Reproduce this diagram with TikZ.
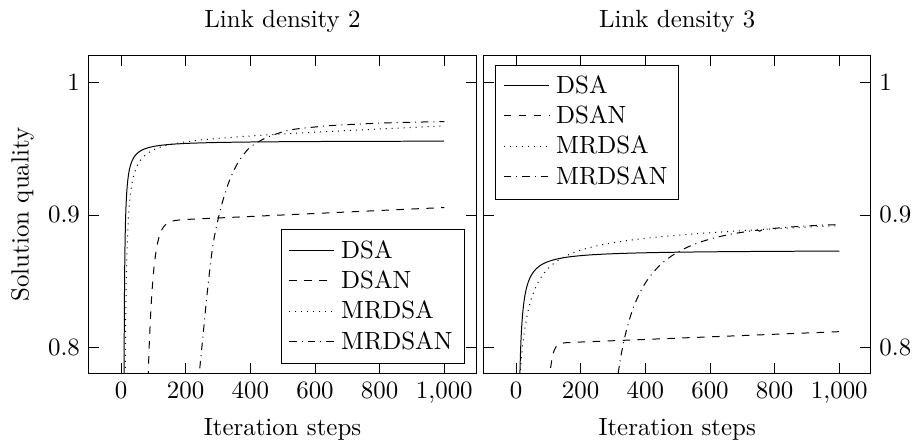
\documentclass[tikz,border=0pt]{standalone}
\begin{document}
\begin{tikzpicture}[x=0.4016pt,y=-0.4016pt,
  axisframe/.style={draw=black,line width=0.4pt},
  tickmark/.style={draw=black,very thin},
  curve/.style={draw=black,line width=0.4pt},
  ticklab/.style={inner sep=0pt,anchor=base},
  legtext/.style={inner sep=0pt,anchor=base west}]
\useasboundingbox (0,0) rectangle (913,446);

% ---------- curves, left panel ----------
\begin{scope}
\clip (88.7,55.7) rectangle (476.3,373.3);
\begin{scope}[shift={(121,1404.7)}]
\begin{scope}[x=0.12984pt,y=530.9pt]
 \draw[curve] plot[domain=0.75:6.9005,samples=160,variable=\u] ({7.2+exp(\u)},{0.9562-0.414/exp(\u)});
 \draw[curve,dashed] plot[domain=80:1000,samples=250,variable=\u] ({\u},{0.8943+0.0113*\u/1000-0.0403*exp(-(\u-100)/15)});
 \draw[curve,dotted] plot[domain=1.5:6.8997,samples=160,variable=\u] ({8+exp(\u)},{0.9579+0.0103*(8+exp(\u))/1000-0.9/exp(\u)});
 \draw[curve,dashdotted] plot[smooth,tension=0.5] coordinates {(238,0.770) (254.6,0.811) (265,0.837) (275.3,0.860) (285.5,0.879) (301,0.8975) (316.4,0.9120) (337,0.9270) (363,0.9400) (394,0.9500) (425,0.9553) (460,0.9595) (522,0.9642) (600,0.9665) (677,0.9680) (832,0.9697) (1000,0.9706)};
\end{scope}
\end{scope}
\end{scope}

% ---------- curves, right panel ----------
\begin{scope}
\clip (483.7,55.7) rectangle (870.6,373.3);
\begin{scope}[shift={(516,1404.7)}]
\begin{scope}[x=0.12984pt,y=530.9pt]
 \draw[curve] plot[domain=2.05:6.9048,samples=160,variable=\u] ({3+exp(\u)},{0.8735-0.85/exp(\u)});
 \draw[curve,dashed] plot[domain=100:1000,samples=250,variable=\u] ({\u},{0.8019+0.0098*\u/1000-0.0128*exp(-(\u-110.5)/9)});
 \draw[curve,dotted] plot[domain=3.3:6.9256,samples=160,variable=\u] ({exp(\u)-18},{0.8869+0.0083*(exp(\u)-18)/1000-3.32/exp(\u)});
 \draw[curve,dashdotted] plot[domain=4.25:6.635,samples=160,variable=\u] ({238.6+exp(\u)},{0.9162-0.01*(238.6+exp(\u))/1000-10.3/exp(\u)});
\end{scope}
\end{scope}
\end{scope}

% ---------- ticks and tick labels ----------
\foreach \v/\t [count=\i] in {0/0,200/200,400/400,600/600,800/800,1000/{1{,}000}} {
  \draw[tickmark] ({121+0.3233*\v},373.3) -- ++(0,-10.6);
  \draw[tickmark] ({121+0.3233*\v},55.7) -- ++(0,10.6);
  \draw[tickmark] ({516+0.3233*\v},373.3) -- ++(0,-10.6);
  \draw[tickmark] ({516+0.3233*\v},55.7) -- ++(0,10.6);
  \node[ticklab] (xl\i) at ({121+0.3233*\v},398.3) {$\t$};
  \node[ticklab] (xr\i) at ({516+0.3233*\v},398.3) {$\t$};
}
\foreach \t/\p [count=\i] in {1/82.7,0.9/214.9,0.8/347.1} {
  \draw[tickmark] (88.7,\p) -- ++(10.6,0);
  \draw[tickmark] (476.3,\p) -- ++(-10.6,0);
  \draw[tickmark] (483.7,\p) -- ++(10.6,0);
  \draw[tickmark] (870.6,\p) -- ++(-10.6,0);
  \node[anchor=east] (yl\i) at (88.7,\p) {$\t$};
  \node[anchor=west] (yr\i) at (870.6,\p) {$\t$};
}

% ---------- frames ----------
\draw[axisframe] (88.7,55.7) rectangle (476.3,373.3);
\draw[axisframe] (483.7,55.7) rectangle (870.6,373.3);

% ---------- legends ----------
\draw[axisframe,fill=white] (281,230) rectangle (464,363.3);
\foreach \s/\t/\r [count=\i] in {solid/DSA/250.7,dashed/DSAN/281,dotted/MRDSA/311.3,dashdotted/MRDSAN/341.7} {
  \draw[curve,\s] (289.3,\r) -- (334,\r);
  \node[legtext] (lgl\i) at (340.7,{\r+7.6}) {\t};
}
\draw[axisframe,fill=white] (495.3,66) rectangle (678.7,199.3);
\foreach \s/\t/\r [count=\i] in {solid/DSA/85.7,dashed/DSAN/116,dotted/MRDSA/146.3,dashdotted/MRDSAN/176.7} {
  \draw[curve,\s] (504,\r) -- (549,\r);
  \node[legtext] (lgr\i) at (555.7,{\r+7.6}) {\t};
}

% ---------- titles and axis labels ----------
\node[anchor=base] (t1) at (282.5,27.6) {Link density 2};
\node[anchor=base] (t2) at (677.2,27.6) {Link density 3};
\node[anchor=base] (xlab1) at (282.5,436) {Iteration steps};
\node[anchor=base] (xlab2) at (677.2,436) {Iteration steps};
\node[anchor=base,rotate=90] (ylab) at (28.5,214.5) {Solution quality};
\end{tikzpicture}
\end{document}
